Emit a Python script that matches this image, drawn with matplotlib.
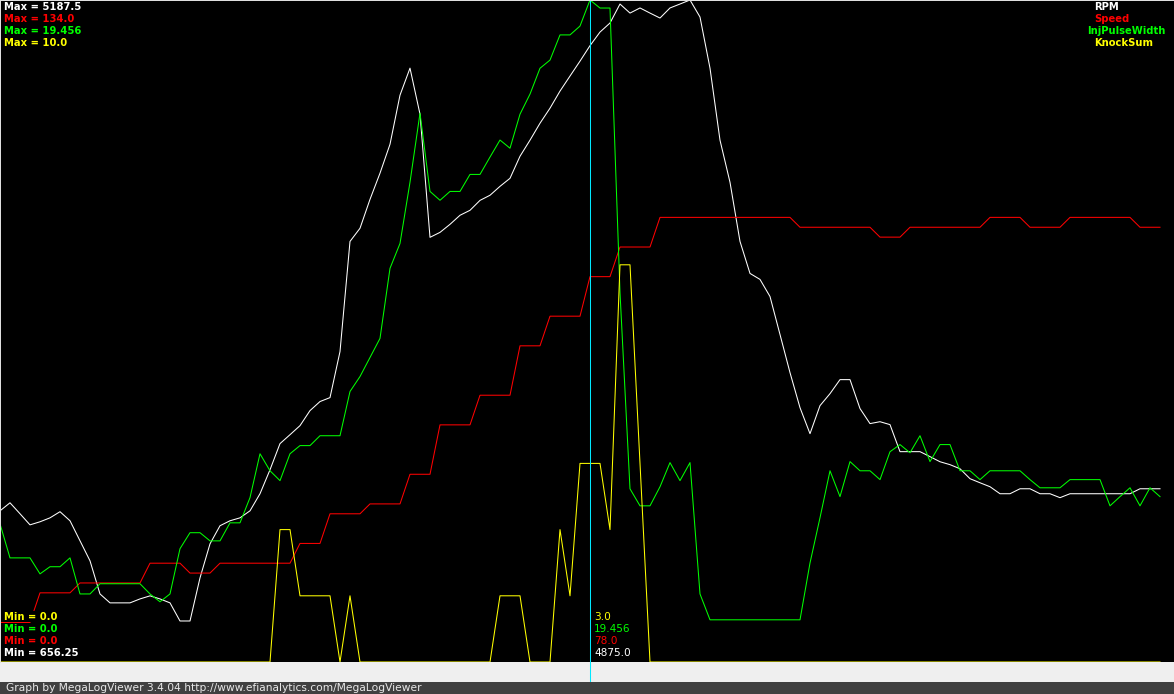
import numpy as np
import matplotlib.pyplot as plt
from matplotlib.patches import Rectangle

# one sample every 10 px
rpm = [1691, 1746, 1671, 1595, 1616, 1643, 1685, 1623, 1486, 1349,
       1122, 1061, 1061, 1061, 1088, 1109, 1088, 1061, 937, 937,
       1232, 1465, 1589, 1623, 1643, 1691, 1808, 1972, 2151, 2212,
       2274, 2377, 2439, 2466, 2781, 3535, 3625, 3823, 4002, 4200,
       4536, 4721, 4406, 3563, 3597, 3652, 3714, 3748, 3816, 3851,
       3912, 3967, 4118, 4228, 4344, 4447, 4564, 4667, 4769, 4875,
       4968, 5030, 5160, 5098, 5133, 5098, 5064, 5133, 5160, 5187.5,
       5071, 4721, 4228, 3940, 3535, 3316, 3275, 3158, 2898, 2637,
       2397, 2219, 2411, 2493, 2589, 2589, 2391, 2288, 2301, 2281,
       2096, 2096, 2096, 2062, 2027, 2007, 1979, 1911, 1883, 1856,
       1808, 1808, 1842, 1842, 1808, 1808, 1781, 1808, 1808, 1808,
       1808, 1808, 1808, 1808, 1842, 1842, 1842]
speed = [8, 8, 8, 8, 14, 14, 14, 14, 16, 16,
         16, 16, 16, 16, 16, 20, 20, 20, 20, 18,
         18, 18, 20, 20, 20, 20, 20, 20, 20, 20,
         24, 24, 24, 30, 30, 30, 30, 32, 32, 32,
         32, 38, 38, 38, 48, 48, 48, 48, 54, 54,
         54, 54, 64, 64, 64, 70, 70, 70, 70, 78,
         78, 78, 84, 84, 84, 84, 90, 90, 90, 90,
         90, 90, 90, 90, 90, 90, 90, 90, 90, 90,
         88, 88, 88, 88, 88, 88, 88, 88, 86, 86,
         86, 88, 88, 88, 88, 88, 88, 88, 88, 90,
         90, 90, 90, 88, 88, 88, 88, 90, 90, 90,
         90, 90, 90, 90, 88, 88, 88]
inj_pw = [4.06, 3.06, 3.06, 3.06, 2.59, 2.80, 2.80, 3.06, 2.00, 2.00,
          2.30, 2.30, 2.30, 2.30, 2.30, 2.00, 1.77, 2.00, 3.33, 3.80,
          3.80, 3.56, 3.56, 4.09, 4.09, 4.83, 6.12, 5.62, 5.33, 6.12,
          6.36, 6.36, 6.65, 6.65, 6.65, 7.95, 8.39, 8.95, 9.51, 11.57,
          12.30, 14.10, 16.13, 13.83, 13.57, 13.83, 13.83, 14.33, 14.33, 14.84,
          15.34, 15.10, 16.10, 16.69, 17.45, 17.69, 18.43, 18.43, 18.69, 19.456,
          19.22, 19.22, 10.86, 5.09, 4.59, 4.59, 5.15, 5.86, 5.33, 5.86,
          2.00, 1.24, 1.24, 1.24, 1.24, 1.24, 1.24, 1.24, 1.24, 1.24,
          1.24, 2.91, 4.24, 5.62, 4.86, 5.89, 5.62, 5.62, 5.36, 6.18,
          6.39, 6.15, 6.65, 5.89, 6.39, 6.39, 5.62, 5.62, 5.36, 5.62,
          5.62, 5.62, 5.62, 5.36, 5.12, 5.12, 5.12, 5.36, 5.36, 5.36,
          5.36, 4.59, 4.86, 5.12, 4.59, 5.12, 4.86]
knock = [0, 0, 0, 0, 0, 0, 0, 0, 0, 0,
         0, 0, 0, 0, 0, 0, 0, 0, 0, 0,
         0, 0, 0, 0, 0, 0, 0, 0, 2, 2,
         1, 1, 1, 1, 0, 1, 0, 0, 0, 0,
         0, 0, 0, 0, 0, 0, 0, 0, 0, 0,
         1, 1, 1, 0, 0, 0, 2, 1, 3, 3,
         3, 2, 6, 6, 3, 0, 0, 0, 0, 0,
         0, 0, 0, 0, 0, 0, 0, 0, 0, 0,
         0, 0, 0, 0, 0, 0, 0, 0, 0, 0,
         0, 0, 0, 0, 0, 0, 0, 0, 0, 0,
         0, 0, 0, 0, 0, 0, 0, 0, 0, 0,
         0, 0, 0, 0, 0, 0, 0]

names = ['RPM', 'Speed', 'InjPulseWidth', 'KnockSum']
colors = ['#ffffff', '#ff0000', '#00ff00', '#ffff00']
mins = [656.25, 0.0, 0.0, 0.0]
maxs = [5187.5, 134.0, 19.456, 10.0]
cursor = 59

W, H = 1174, 694
fig = plt.figure(figsize=(W / 100, H / 100), dpi=100, facecolor='#efefef')

def px(x, y):
    return x / W, 1 - y / H

# footer strip
fig.add_artist(Rectangle((0, 0), 1, 12 / H, transform=fig.transFigure,
                         facecolor='#404040', edgecolor='none'))
fig.text(*px(6, 688), 'Graph by MegaLogViewer 3.4.04 http://www.efianalytics.com/MegaLogViewer',
         color='#e8e8e8', fontsize=7.7, family='DejaVu Sans', va='center', ha='left')

ax = fig.add_axes([0, 32 / H, 1, 662 / H])
ax.set_facecolor('black')
axes = [ax, ax.twinx(), ax.twinx(), ax.twinx()]
x = np.arange(len(rpm))
for a, s, c, lo, hi in zip(axes, [rpm, speed, inj_pw, knock], colors, mins, maxs):
    a.plot(x, s, color=c, lw=0.75)
    a.set_ylim(lo, hi)
    a.set_xlim(0, 117.4)
    a.set_xticks([])
    a.set_yticks([])
    for side, sp in a.spines.items():
        sp.set_color('#e0e0e0')
        sp.set_linewidth(0.6)
        if side in ('bottom', 'right'):
            sp.set_visible(False)

axes[3].axvline(cursor, ymin=-20 / 662, ymax=1, color='#00e8ff', lw=0.75,
                clip_on=False)

series = [rpm, speed, inj_pw, knock]
lab = dict(fontsize=7.2, family='DejaVu Sans', fontweight='bold', va='center', ha='left',
           bbox=dict(facecolor='black', edgecolor='none', pad=0.3))

# max labels top left, legend top right
legend_x = [1094, 1094, 1087, 1094]
for k in range(4):
    y = 6.5 + 12 * k
    fig.text(*px(4, y), 'Max = ' + str(float(maxs[k])), color=colors[k], **lab)
    fig.text(*px(legend_x[k], y), names[k], color=colors[k], **lab)

# min labels and cursor values bottom
for k in range(4):
    j = 3 - k
    y = 616.5 + 12 * k
    fig.text(*px(4, y), 'Min = ' + str(float(mins[j])), color=colors[j], **lab)
    fig.text(*px(594, y), str(float(series[j][cursor])), color=colors[j],
             fontsize=7.6, family='DejaVu Sans', va='center', ha='left')

plt.savefig('out.png', dpi=100, facecolor=fig.get_facecolor())
